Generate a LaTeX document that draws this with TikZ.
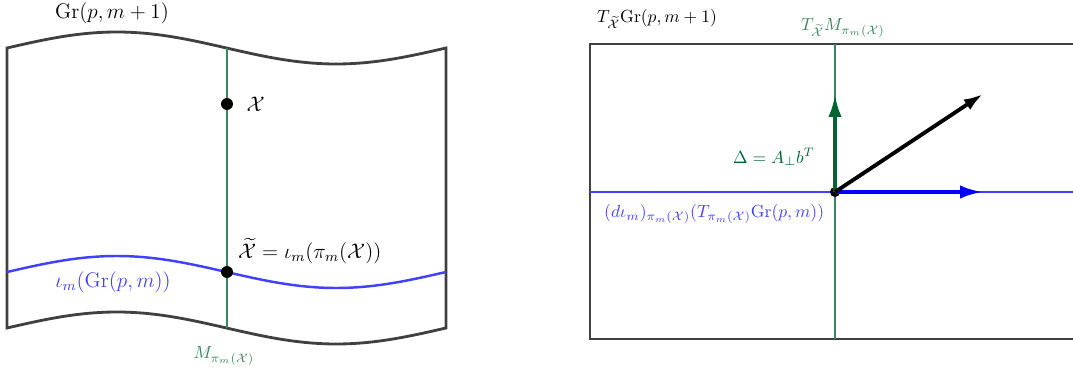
\documentclass[tikz,border=0pt]{standalone}
\usepackage{amsmath,amssymb}
\usepackage{xcolor}
\usetikzlibrary{positioning,arrows.meta,calc}

\definecolor{frame}{RGB}{64,64,64}
\definecolor{mgreen}{RGB}{58,134,92}
\definecolor{dgreen}{RGB}{0,100,50}
\definecolor{wblue}{RGB}{64,64,255}

\begin{document}
\begin{tikzpicture}[
    x=0.02cm, y=-0.02cm,
    big/.style={font=\large},
    small/.style={font=\normalsize},
    frame/.style={draw=frame, line width=1.6pt},
    fiber/.style={draw=mgreen, line width=1.1pt},
    sub/.style={draw=wblue, line width=1.4pt},
    dot/.style={circle, fill=black, inner sep=0pt, minimum size=#1},
    dot/.default=0.24cm,
    vec/.style={line width=2.2pt, -{Latex[length=13pt,width=7.5pt]}},
  ]
    \clip (0,0) rectangle (1073,375);
    % linke Seite: Gr(p,m+1) als gewellte Flaeche
    \draw[frame] plot[domain=7:446, samples=80] (\x, {48-16*sin((\x-7)/439*360)})
      -- plot[domain=446:7, samples=80] (\x, {328-16*sin((\x-7)/439*360)}) -- cycle;
    \draw[sub] plot[domain=7:446, samples=80] (\x, {272-16*sin((\x-7)/439*360)});
    \coordinate (ftop) at (227,48);
    \coordinate (fbot) at (227,328);
    \draw[fiber] (ftop) -- (fbot);
    \node[dot] (X) at (227,104) {};
    \node[dot] (Xt) at (227,272) {};
    \node[big, right=4pt of X] (lX) {$\mathcal{X}$};
    \node[big, anchor=south west, inner sep=1pt] (lXt) at (236,266) {$\widetilde{\mathcal{X}} = \iota_m(\pi_m(\mathcal{X}))$};
    \node[big] (lG) at (112,13) {$\mathrm{Gr}(p,m+1)$};
    \node[big, text=wblue] (lsub) at (113,282) {$\iota_m(\mathrm{Gr}(p,m))$};
    \node[small, text=mgreen] (lM) at (224,356) {$M_{\pi_m(\mathcal{X})}$};
    % rechte Seite: Tangentialraum
    \draw[frame] (1100,44) -- (590,44) -- (590,339) -- (1100,339);
    \coordinate (vtop) at (835,44);
    \coordinate (vbot) at (835,339);
    \coordinate (hl) at (590,192);
    \coordinate (hr) at (1073,192);
    \draw[fiber] (vtop) -- (vbot);
    \draw[draw=wblue, line width=0.9pt] (hl) -- (hr);
    \node[dot=0.2cm] (o) at (835,192) {};
    \coordinate (tipg) at (835,94);
    \coordinate (tipb) at (983,192);
    \coordinate (tipk) at (983,94);
    \draw[vec, dgreen] (o.center) -- (tipg);
    \draw[vec, blue] (o.center) -- (tipb);
    \draw[vec, black, -{Latex[length=11pt,width=7pt]}] (o.center) -- (tipk);
    \node[small, anchor=west] (lT) at (591,19) {$T_{\widetilde{\mathcal{X}}}\mathrm{Gr}(p,m+1)$};
    \node[small, text=mgreen] (lTM) at (843,28) {$T_{\widetilde{\mathcal{X}}}M_{\pi_m(\mathcal{X})}$};
    \node[small, text=dgreen, anchor=east] (lD) at (821,157) {$\Delta = A_\perp b^T$};
    \node[small, text=wblue, anchor=west] (ld) at (598,214) {$(d\iota_m)_{\pi_m(\mathcal{X})}(T_{\pi_m(\mathcal{X})}\mathrm{Gr}(p,m))$};
  \end{tikzpicture}
\end{document}
